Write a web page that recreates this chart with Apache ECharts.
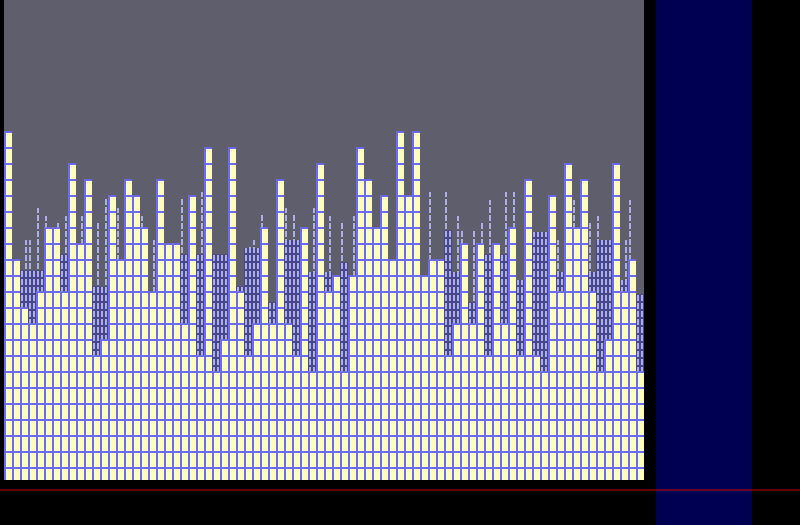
<!DOCTYPE html>
<html>
<head>
<meta charset="utf-8">
<script src="https://cdn.jsdelivr.net/npm/echarts@6/dist/echarts.min.js"></script>
<style>
html,body{margin:0;padding:0;background:#000;}
#c{width:800px;height:525px;}
</style>
</head>
<body>
<div id="c"></div>
<script>
// ---- data ----
const categories = Array.from({length: 80}, (_, i) => String(i + 1));

const yellowValues = [
  21.8,13.8,10.8,9.8,11.8,15.8,15.8,11.8,19.8,14.8,
  18.8,7.8,8.8,17.8,13.8,18.8,17.8,15.8,11.8,18.8,
  14.8,14.8,9.8,17.8,7.8,20.8,6.8,8.8,20.8,11.8,
  7.8,9.8,15.8,9.8,18.8,9.8,7.8,15.8,6.8,19.8,
  11.8,12.8,6.8,12.8,20.8,18.8,15.8,17.8,13.8,21.8,
  17.8,21.8,12.8,13.8,13.8,7.8,9.8,14.8,9.8,14.8,
  7.8,14.8,9.8,15.8,7.8,18.8,7.8,6.8,17.8,11.8,
  19.8,15.8,18.8,11.8,6.8,8.8,19.8,11.8,13.8,6.8
];

const darkValues = [
  null,null,13.1,13.1,13.1,null,null,14.1,null,null,
  null,12.1,12.1,null,null,null,null,null,null,null,
  null,null,14.1,null,14.1,null,14.1,14.1,null,12.1,
  14.5,14.5,null,11.1,null,15.0,15.0,null,13.0,null,
  13.0,null,13.6,null,null,null,null,null,null,null,
  null,null,null,null,null,15.6,13.0,null,11.1,null,
  14.1,null,14.1,null,12.5,null,15.5,15.5,null,13.0,
  null,null,null,13.0,15.0,15.0,null,12.5,null,11.6
];

const thinLeft = [
  null,null,null,15.0,17.0,16.5,null,null,null,null,
  null,null,null,null,17.0,null,null,16.5,null,null,
  null,null,17.6,null,null,null,null,null,null,null,
  null,15.0,16.6,null,null,17.0,16.6,null,null,null,
  null,null,16.1,null,null,null,null,null,null,null,
  null,null,null,18.0,null,18.0,null,15.6,null,null,
  null,null,null,null,null,null,null,null,null,15.0,
  null,17.5,null,16.1,16.5,null,null,null,17.5,null
];

const thinRight = [
  null,null,15.0,null,null,null,16.1,16.5,null,16.5,
  null,16.1,17.6,null,null,null,null,null,15.0,null,
  null,null,null,null,18.0,null,null,null,null,null,
  14.6,null,null,null,null,null,null,null,17.0,null,
  16.5,null,null,16.5,null,null,null,null,null,null,
  null,null,null,null,null,null,16.5,null,15.6,16.1,
  17.5,null,18.0,18.0,null,null,null,null,null,null,
  null,null,null,null,null,null,null,15.0,null,null
];

// half-category axis built from the categories
const halfCategories = categories.flatMap(c => [c + 'L', c + 'R']);
const thinData = categories.flatMap((c, i) => [thinLeft[i], thinRight[i]]);

// ---- fill patterns (style only) ----
function tile(w, h, draw) {
  const cv = document.createElement('canvas');
  cv.width = w; cv.height = h;
  draw(cv.getContext('2d'));
  return cv;
}
const yellowTile = tile(8, 16, g => {
  g.fillStyle = '#fdfdc2'; g.fillRect(0, 0, 8, 16);
  g.fillStyle = '#6c6cf2'; g.fillRect(0, 0, 2, 16); g.fillRect(0, 0, 8, 2);
});
const darkTile = tile(4, 8, g => {
  g.fillStyle = '#46468c'; g.fillRect(0, 0, 4, 8);
  g.fillStyle = '#acace6'; g.fillRect(1, 0, 2, 6);
});
const thinTile = tile(2, 8, g => {
  g.fillStyle = '#acace6'; g.fillRect(0, 0, 2, 6);
});

const chart = echarts.init(document.getElementById('c'), null, {renderer: 'canvas'});
chart.setOption({
  backgroundColor: '#000000',
  animation: false,
  grid: {
    left: 4, right: 156, top: 0, bottom: 45,
    show: true, backgroundColor: '#5e5e6c', borderWidth: 0
  },
  xAxis: [
    {type: 'category', data: categories, show: false},
    {type: 'category', data: halfCategories, show: false}
  ],
  yAxis: {type: 'value', min: 0, max: 30, show: false},
  series: [
    {
      name: 'thin', type: 'bar', xAxisIndex: 1, data: thinData, barWidth: 2,
      itemStyle: {color: {image: thinTile, repeat: 'repeat', x: 5, y: 7}}
    },
    {
      name: 'dark', type: 'bar', xAxisIndex: 0, data: darkValues,
      barCategoryGap: '0%', barGap: '-100%',
      itemStyle: {color: {image: darkTile, repeat: 'repeat', x: 4, y: 7}}
    },
    {
      name: 'yellow', type: 'bar', xAxisIndex: 0, data: yellowValues,
      barCategoryGap: '0%', barGap: '-100%',
      itemStyle: {color: {image: yellowTile, repeat: 'repeat', x: 4, y: 3}}
    }
  ],
  graphic: [
    {type: 'rect', left: 656, top: 0, z: 1,
     shape: {width: 96, height: 525}, style: {fill: '#000052'}},
    {type: 'line', z: 2,
     shape: {x1: 0, y1: 490, x2: 800, y2: 490},
     style: {stroke: 'rgba(200,0,0,0.5)', lineWidth: 2}}
  ]
});
</script>
</body>
</html>
